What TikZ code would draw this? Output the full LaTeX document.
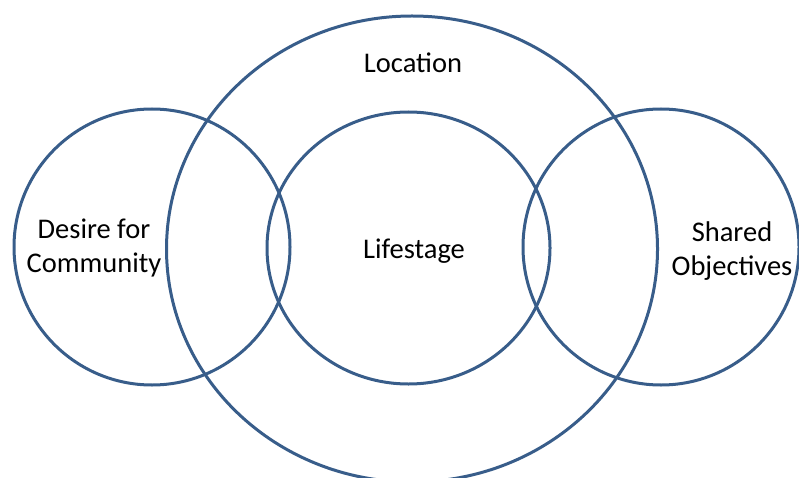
\documentclass[tikz,border=0pt]{standalone}
\usepackage{fontspec}
\setmainfont{Carlito}
\usetikzlibrary{shapes.geometric}
\definecolor{ringblue}{RGB}{56,93,138}
\begin{document}
\begin{tikzpicture}[x=1pt,y=-1pt,
  ring/.style={draw=ringblue, line width=3pt, ellipse, inner sep=0pt, fill=none},
  lbl/.style={align=center, inner sep=0pt, font=\fontsize{28.5}{34}\selectfont, text=black}]
\useasboundingbox (0,0) rectangle (799,478);
\node[ring, minimum width=491pt, minimum height=466pt] (loc) at (412,249) {};
\node[ring, minimum width=276pt, minimum height=276pt] (des) at (152,247) {};
\node[ring, minimum width=283pt, minimum height=272pt] (life) at (408.5,248) {};
\node[ring, minimum width=276pt, minimum height=276pt] (sha) at (661,247) {};
\node[lbl] (tloc) at (413,63) {Location};
\node[lbl] (tdes) at (94,248) {Desire for\\Community};
\node[lbl] (tlife) at (414,251) {Lifestage};
\node[lbl] (tsha) at (732,251) {Shared\\Objectives};
\end{tikzpicture}
\end{document}
